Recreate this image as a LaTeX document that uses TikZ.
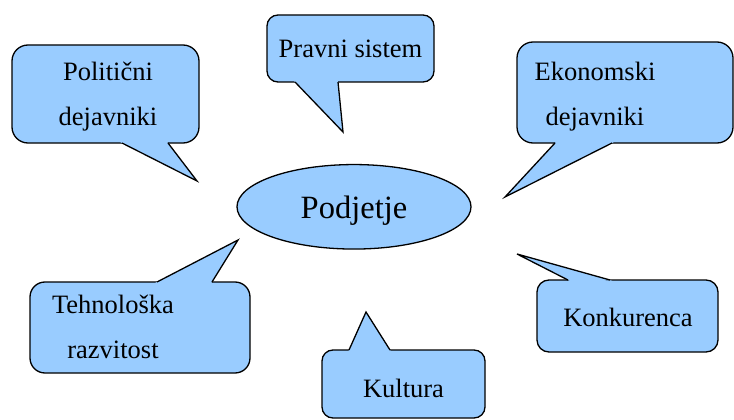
\documentclass[tikz,border=0pt]{standalone}
\usepackage{fontspec}
\setmainfont{Liberation Serif}
\newfontfamily\timesfont{Liberation Serif}
\usetikzlibrary{shapes.geometric,calc}
\definecolor{callblue}{HTML}{99CCFF}
\tikzset{
  bubble/.style={fill=callblue, draw=black, line width=1.3pt},
  bubbleedge/.style={draw=black, line width=1.3pt, line join=miter},
  bubbletext/.style={font=\timesfont\fontsize{26.5}{45}\selectfont, align=center, inner sep=0pt},
}
% #1 corner, #2 opposite corner, #3 corner radius, #4 pointer base 1, #5 pointer base 2, #6 pointer tip
\newcommand\drawcallout[6]{%
  \coordinate (cb1) at #4;
  \coordinate (cb2) at #5;
  \coordinate (ctip) at #6;
  \draw[bubble, rounded corners=#3] #1 rectangle #2;
  \fill[callblue] ($(cb1)!-2.5pt!(ctip)$) -- (ctip) -- ($(cb2)!-2.5pt!(ctip)$) -- cycle;
  \draw[bubbleedge] (cb1) -- (ctip) -- (cb2);
}
\begin{document}
\begin{tikzpicture}[x=1pt,y=-1pt]
\useasboundingbox (0,0) rectangle (734,420);

% callouts
\drawcallout{(12,45)}{(199,143)}{16pt}{(122,143)}{(168,143)}{(197,181)}
\drawcallout{(267,15)}{(434,82)}{11pt}{(295,82)}{(338,82)}{(343,132)}
\drawcallout{(517,42)}{(733,143)}{16pt}{(555,143)}{(612,143)}{(505,197)}
\drawcallout{(30,282)}{(250,373)}{15pt}{(157,282)}{(212,282)}{(238,240)}
\drawcallout{(322,350)}{(485,418)}{11pt}{(349,350)}{(390,350)}{(366,312)}
\drawcallout{(537,280)}{(718,352)}{12pt}{(568,280)}{(610,280)}{(517,254)}

% texts
\node[bubbletext] (pol) at (108,96.4) {Politični\\dejavniki};
\node[bubbletext, anchor=base] (pra) at (350.5,58) {Pravni sistem};
\node[bubbletext] (eko) at (595,96.4) {Ekonomski\\dejavniki};
\node[bubbletext] (teh) at (113,326.5) {Tehnološka\\razvitost};
\node[bubbletext, anchor=base] (kul) at (403.5,397) {Kultura};
\node[bubbletext, anchor=base] (kon) at (628,326) {Konkurenca};

% centre
\node[ellipse, bubble, minimum width=234pt, minimum height=84.5pt, inner sep=0pt,
      text depth=0pt, font=\timesfont\fontsize{32.5}{39}\selectfont] (pod) at (354,206.8) {Podjetje};
\end{tikzpicture}
\end{document}
